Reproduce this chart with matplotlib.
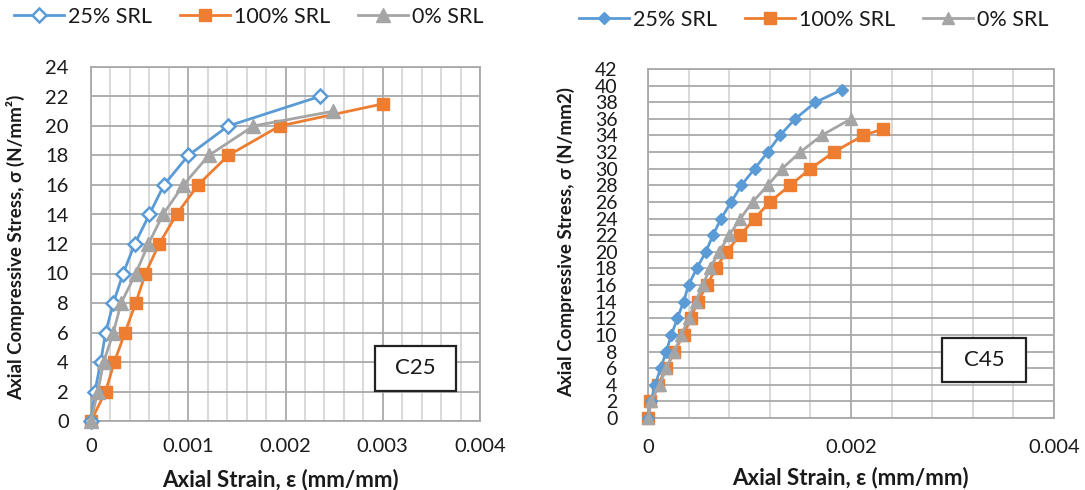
import matplotlib
matplotlib.use("Agg")
import matplotlib.pyplot as plt
from matplotlib.lines import Line2D
from matplotlib.patches import Rectangle
from matplotlib.ticker import MultipleLocator, FixedLocator, FixedFormatter

plt.rcParams['font.family'] = ['Lato', 'DejaVu Sans']

# ---------------- data ----------------
series_names = ["25% SRL", "100% SRL", "0% SRL"]

# C25
c25_blue_stress = [0, 2, 4, 6, 8, 10, 12, 14, 16, 18, 20, 22]
c25_blue_strain = [0, 0.00004, 0.0001, 0.00015, 0.00023, 0.00033, 0.00045, 0.0006, 0.00075, 0.001, 0.00141, 0.00235]
c25_orange_stress = [0, 2, 4, 6, 8, 10, 12, 14, 16, 18, 20, 21.5]
c25_orange_strain = [0, 0.00015, 0.00024, 0.00035, 0.00046, 0.00056, 0.0007, 0.00088, 0.0011, 0.00141, 0.00194, 0.003]
c25_gray_stress = [0, 2, 4, 6, 8, 10, 12, 14, 16, 18, 20, 21]
c25_gray_strain = [0, 0.00007, 0.00013, 0.00023, 0.00031, 0.00046, 0.00059, 0.00074, 0.00095, 0.00121, 0.00167, 0.00249]

# C45
c45_blue_stress = [0, 2, 4, 6, 8, 10, 12, 14, 16, 18, 20, 22, 24, 26, 28, 30, 32, 34, 36, 38, 39.5]
c45_blue_strain = [0, 0.00003, 0.00007, 0.000125, 0.00018, 0.00023, 0.00029, 0.00035, 0.0004, 0.00048,
                   0.00057, 0.00064, 0.00072, 0.00082, 0.00092, 0.00105, 0.00118, 0.0013, 0.00145, 0.00165, 0.00191]
c45_orange_stress = [0, 2, 4, 6, 8, 10, 12, 14, 16, 18, 20, 22, 24, 26, 28, 30, 32, 34, 34.8]
c45_orange_strain = [0, 0.00002, 0.0001, 0.00018, 0.00026, 0.00035, 0.00042, 0.00049, 0.00058, 0.00067,
                     0.00077, 0.00091, 0.00105, 0.0012, 0.0014, 0.0016, 0.00183, 0.00212, 0.00232]
c45_gray_stress = [0, 2, 4, 6, 8, 10, 12, 14, 16, 18, 20, 22, 24, 26, 28, 30, 32, 34, 36]
c45_gray_strain = [0, 0.00003, 0.000115, 0.00018, 0.00026, 0.00033, 0.0004, 0.00047, 0.00054, 0.00061,
                   0.0007, 0.0008, 0.00091, 0.00103, 0.00118, 0.00132, 0.0015, 0.00171, 0.002]

c25_xticks = [0, 0.001, 0.002, 0.003, 0.004]
c25_xticklabels = ["0", "0.001", "0.002", "0.003", "0.004"]
c45_xticks = [0, 0.002, 0.004]
c45_xticklabels = ["0", "0.002", "0.004"]

BLUE = '#5B9BD5'
ORANGE = '#ED7D31'
GRAY = '#A5A5A5'
MAJ = '#a9a9a9'
MIN = '#cfcfcf'
TXT = '#1a1a1a'

W, H = 1085, 490
fig = plt.figure(figsize=(W / 100, H / 100), dpi=100)


def px_axes(l, t, r, b):
    return fig.add_axes([l / W, (H - b) / H, (r - l) / W, (b - t) / H])


def style(ax, xmax, ymax, xticks, xlabels, xminor, ypad, xpad, ysize):
    ax.set_xlim(0, xmax)
    ax.set_ylim(0, ymax)
    ax.xaxis.set_major_locator(FixedLocator(xticks))
    ax.xaxis.set_major_formatter(FixedFormatter(xlabels))
    ax.xaxis.set_minor_locator(MultipleLocator(xminor))
    ax.yaxis.set_major_locator(MultipleLocator(2))
    ax.grid(which='major', color=MAJ, lw=1.3, zorder=0)
    ax.grid(which='minor', axis='x', color=MIN, lw=1.1, zorder=0)
    ax.set_axisbelow(True)
    for s in ax.spines.values():
        s.set_color(MAJ)
        s.set_linewidth(1.3)
    ax.tick_params(which='both', length=0, colors=TXT)
    ax.tick_params(axis='x', pad=xpad, labelsize=14.5)
    ax.tick_params(axis='y', pad=ypad, labelsize=ysize)


# ---------------- left: C25 ----------------
ax1 = px_axes(91, 67, 480, 421)
style(ax1, 0.004, 24, c25_xticks, c25_xticklabels, 0.0002, 16, 12, 14.5)
ax1.plot(c25_blue_strain, c25_blue_stress, color=BLUE, lw=2, marker='D', ms=7,
         mfc='white', mec=BLUE, mew=1.8, zorder=5, clip_on=False)
ax1.plot(c25_orange_strain, c25_orange_stress, color=ORANGE, lw=2, marker='s', ms=8.5,
         mfc=ORANGE, mec=ORANGE, zorder=4, clip_on=False)
ax1.plot(c25_gray_strain, c25_gray_stress, color=GRAY, lw=2, marker='^', ms=9.5,
         mfc=GRAY, mec=GRAY, zorder=6, clip_on=False)
ax1.set_xlabel("Axial Strain, ε (mm/mm)", fontsize=16, fontweight='bold', color=TXT)
ax1.xaxis.set_label_coords(0.486, -0.135)
ax1.set_ylabel("Axial Compressive Stress, σ (N/mm²)", fontsize=13.5, fontweight='bold', color=TXT)
ax1.yaxis.set_label_coords(-0.17, 0.49)
ax1.add_patch(Rectangle((0.730, 0.0856), 0.208, 0.126, transform=ax1.transAxes,
                        facecolor='white', edgecolor='#222222', lw=1.6, zorder=10, clip_on=False))
ax1.text(0.834, 0.149, "C25", transform=ax1.transAxes, ha='center', va='center',
         fontsize=16, zorder=11, color=TXT)

# ---------------- right: C45 ----------------
ax2 = px_axes(648, 69, 1054, 418)
style(ax2, 0.004, 42, c45_xticks, c45_xticklabels, 0.0004, 22, 15, 14)
ax2.plot(c45_blue_strain, c45_blue_stress, color=BLUE, lw=2, marker='D', ms=6.5,
         mfc=BLUE, mec=BLUE, zorder=5, clip_on=False)
ax2.plot(c45_orange_strain, c45_orange_stress, color=ORANGE, lw=2, marker='s', ms=8.5,
         mfc=ORANGE, mec=ORANGE, zorder=4, clip_on=False)
ax2.plot(c45_gray_strain, c45_gray_stress, color=GRAY, lw=2, marker='^', ms=9,
         mfc=GRAY, mec=GRAY, zorder=6, clip_on=False)
ax2.set_xlabel("Axial Strain, ε (mm/mm)", fontsize=16, fontweight='bold', color=TXT)
ax2.xaxis.set_label_coords(0.4975, -0.14)
ax2.set_ylabel("Axial Compressive Stress, σ (N/mm2)", fontsize=13.5, fontweight='bold', color=TXT)
ax2.yaxis.set_label_coords(-0.18, 0.504)
ax2.add_patch(Rectangle((0.723, 0.104), 0.209, 0.124, transform=ax2.transAxes,
                        facecolor='white', edgecolor='#222222', lw=1.6, zorder=10, clip_on=False))
ax2.text(0.828, 0.166, "C45", transform=ax2.transAxes, ha='center', va='center',
         fontsize=16, zorder=11, color=TXT)

# ---------------- legends ----------------
h1 = [Line2D([], [], color=BLUE, lw=2, marker='D', ms=7, mfc='white', mec=BLUE, mew=1.8),
      Line2D([], [], color=ORANGE, lw=2, marker='s', ms=8.5, mfc=ORANGE, mec=ORANGE),
      Line2D([], [], color=GRAY, lw=2, marker='^', ms=9.5, mfc=GRAY, mec=GRAY)]
h2 = [Line2D([], [], color=BLUE, lw=2, marker='D', ms=6.5, mfc=BLUE, mec=BLUE),
      Line2D([], [], color=ORANGE, lw=2, marker='s', ms=8.5, mfc=ORANGE, mec=ORANGE),
      Line2D([], [], color=GRAY, lw=2, marker='^', ms=9, mfc=GRAY, mec=GRAY)]
leg_kw = dict(ncol=3, frameon=False, fontsize=15.5, handlelength=2.3, handletextpad=0.2,
              columnspacing=1.3, loc='center', labelcolor=TXT)
fig.legend(h1, series_names, bbox_to_anchor=(249 / W, 1 - 17 / H), **leg_kw)
fig.legend(h2, series_names, bbox_to_anchor=(814 / W, 1 - 20 / H), **leg_kw)

fig.savefig("out.png", dpi=100, facecolor='white')
